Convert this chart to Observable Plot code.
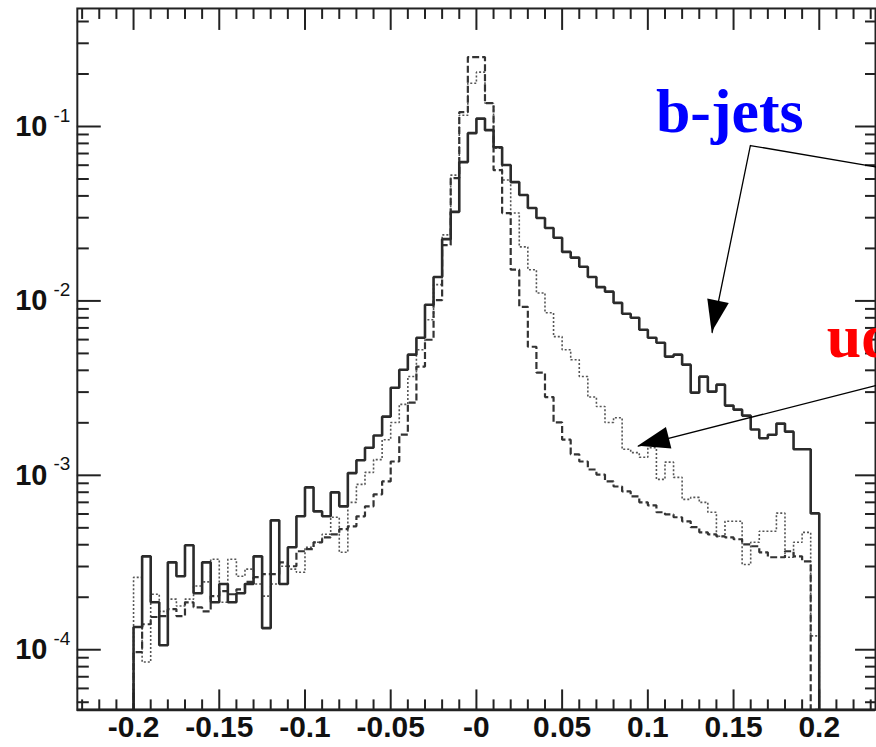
<!DOCTYPE html>
<html>
<head>
<meta charset="utf-8">
<script src="https://cdn.jsdelivr.net/npm/d3@7"></script>
<script src="https://cdn.jsdelivr.net/npm/@observablehq/plot@0.6"></script>
<style>
  html, body { margin: 0; padding: 0; background: #fff; overflow: hidden; }
  #chart { width: 876px; height: 747px; overflow: hidden; }
</style>
</head>
<body>
<div id="chart"></div>
<script>
// Histogram binning: 80 bins of width 0.005 from -0.2 to 0.2
const binStart = -0.2;
const binWidth = 0.005;

// b-jets (solid)
const bJets = [
  1.35e-4, 3.43e-4, 1.87e-4, 1.06e-4, 3.17e-4, 2.64e-4, 3.97e-4, 2.11e-4, 3.17e-4, 1.87e-4,
  2.38e-4, 1.87e-4, 2.11e-4, 2.38e-4, 3.43e-4, 1.33e-4, 5.52e-4, 2.38e-4, 3.87e-4, 5.82e-4,
  8.53e-4, 6.21e-4, 5.82e-4, 7.98e-4, 6.64e-4, 1.03e-3, 1.22e-3, 1.44e-3, 1.69e-3, 2.17e-3,
  3.18e-3, 4.03e-3, 4.92e-3, 6.15e-3, 9.50e-3, 1.37e-2, 2.26e-2, 3.24e-2, 6.25e-2, 9.16e-2,
  0.111, 9.53e-2, 7.61e-2, 6.01e-2, 4.80e-2, 4.05e-2, 3.41e-2, 2.99e-2, 2.62e-2, 2.30e-2,
  1.91e-2, 1.77e-2, 1.57e-2, 1.37e-2, 1.20e-2, 1.13e-2, 9.75e-3, 8.44e-3, 8.00e-3, 6.84e-3,
  6.15e-3, 5.76e-3, 4.79e-3, 4.92e-3, 4.31e-3, 2.98e-3, 3.68e-3, 3.02e-3, 3.31e-3, 2.51e-3,
  2.38e-3, 2.20e-3, 1.83e-3, 1.63e-3, 1.71e-3, 1.98e-3, 1.78e-3, 1.41e-3, 1.41e-3, 6.05e-4
];

// c-jets (dashed)
const cJets = [
  9.7e-5, 1.40e-4, 1.54e-4, 1.56e-4, 1.71e-4, 1.56e-4, 1.87e-4, 1.75e-4, 1.66e-4, 2.03e-4,
  2.17e-4, 2.08e-4, 2.22e-4, 2.45e-4, 2.61e-4, 2.71e-4, 2.71e-4, 3.17e-4, 3.01e-4, 3.67e-4,
  3.77e-4, 4.13e-4, 4.41e-4, 4.59e-4, 4.91e-4, 5.10e-4, 5.82e-4, 6.64e-4, 7.78e-4, 9.23e-4,
  1.20e-3, 1.71e-3, 2.61e-3, 4.20e-3, 5.99e-3, 1.01e-2, 2.09e-2, 5.06e-2, 0.121, 0.250,
  0.250, 0.136, 5.62e-2, 3.19e-2, 1.51e-2, 9.25e-3, 5.46e-3, 3.88e-3, 2.81e-3, 2.01e-3,
  1.60e-3, 1.32e-3, 1.20e-3, 1.08e-3, 1.01e-3, 9.23e-4, 8.63e-4, 8.09e-4, 7.57e-4, 7.00e-4,
  6.73e-4, 6.14e-4, 5.97e-4, 5.75e-4, 5.45e-4, 5.04e-4, 4.71e-4, 4.59e-4, 4.47e-4, 4.41e-4,
  4.30e-4, 4.02e-4, 3.92e-4, 3.62e-4, 3.39e-4, 3.39e-4, 3.67e-4, 3.43e-4, 3.21e-4, 0
];

// light jets (dotted)
const lightJets = [
  2.60e-4, 8.5e-5, 2.08e-4, 1.66e-4, 1.95e-4, 1.78e-4, 1.95e-4, 2.32e-4, 2.45e-4, 3.30e-4,
  1.87e-4, 3.30e-4, 2.64e-4, 2.90e-4, 2.38e-4, 2.03e-4, 2.38e-4, 3.01e-4, 2.90e-4, 2.78e-4,
  3.87e-4, 4.13e-4, 4.59e-4, 5.75e-4, 3.62e-4, 7.00e-4, 8.87e-4, 1.04e-3, 1.23e-3, 1.60e-3,
  2.01e-3, 2.55e-3, 3.69e-3, 5.25e-3, 7.80e-3, 1.24e-2, 2.39e-2, 5.26e-2, 0.116, 0.177,
  0.205, 0.136, 7.51e-2, 4.93e-2, 3.19e-2, 2.04e-2, 1.51e-2, 1.11e-2, 8.55e-3, 6.24e-3,
  5.25e-3, 4.60e-3, 3.69e-3, 2.81e-3, 2.48e-3, 2.01e-3, 2.14e-3, 1.41e-3, 1.35e-3, 1.27e-3,
  1.44e-3, 9.48e-4, 1.19e-3, 9.73e-4, 7.28e-4, 7.47e-4, 7.00e-4, 6.14e-4, 4.47e-4, 5.45e-4,
  5.45e-4, 3.08e-4, 4.13e-4, 4.78e-4, 4.78e-4, 6.07e-4, 3.39e-4, 4.13e-4, 4.71e-4, 1.20e-4
];

// Axis ticks and labels
const xMajorTicks = [-0.2, -0.15, -0.1, -0.05, 0, 0.05, 0.1, 0.15, 0.2];
const xTickLabels = ["-0.2", "-0.15", "-0.1", "-0.05", "-0", "0.05", "0.1", "0.15", "0.2"];
const decadeExponents = [-1, -2, -3, -4];

// Annotations: labels and arrows (data coordinates)
const labels = [
  {x: 0.1047, y: 0.166, text: "b-jets", color: "#0000ff"},
  {x: 0.2043, y: 8.55e-3, text: "udsg-jets", color: "#ff0000"}
];
const arrows = [
  [{x: 0.2328, y: 0.0586}, {x: 0.1598, y: 0.0778}, {x: 0.1375, y: 6.59e-3}],
  [{x: 0.2328, y: 3.27e-3}, {x: 0.0944, y: 1.47e-3}]
];

// Frame geometry
const W = 878, H = 747;
const mTop = 8, mBottom = 36, mLeft = 77, mRight = 1;
const innerW = W - mLeft - mRight, innerH = H - mTop - mBottom;
const xDomain = [-0.2328, 0.2328];
const yDomain = [4.52e-5, 0.475];
const yFloor = yDomain[0];

// Minor ticks: every 0.01 in x, 2..9 x 10^k in y
const xMinorTicks = d3.range(-23, 24).map(k => k / 100).filter(v => Math.abs(Math.round(v * 100) % 5) !== 0);
const yMinorTicks = [];
for (let k = -5; k <= -1; ++k) for (let m = 2; m <= 9; ++m) {
  const v = m * Math.pow(10, k);
  if (v > yDomain[0] && v < yDomain[1]) yMinorTicks.push(v);
}
const yMajorTicks = decadeExponents.map(e => Math.pow(10, e));

// Turn bin contents into a closed step outline
function stepOutline(values) {
  const pts = [{x: binStart, y: yFloor}];
  values.forEach((v, i) => pts.push({x: binStart + i * binWidth, y: Math.max(v, yFloor)}));
  const end = binStart + values.length * binWidth;
  pts.push({x: end, y: Math.max(values[values.length - 1], yFloor)});
  pts.push({x: end, y: yFloor});
  return pts;
}

const sansFont = "'Liberation Sans', Arial, Helvetica, sans-serif";
const serifFont = "'Liberation Serif', 'Times New Roman', Times, serif";
const tickColor = "#222";

const chart = Plot.plot({
  width: W,
  height: H,
  marginTop: mTop,
  marginBottom: mBottom,
  marginLeft: mLeft,
  marginRight: mRight,
  style: {background: "#fff", fontFamily: sansFont, color: "#111"},
  x: {domain: xDomain, axis: null},
  y: {type: "log", domain: yDomain, axis: null},
  marks: [
    // histograms
    Plot.line(stepOutline(lightJets), {x: "x", y: "y", curve: "step-after", stroke: "#555",
      strokeWidth: 1.6, strokeDasharray: "2,2", strokeLinecap: "butt", strokeLinejoin: "miter"}),
    Plot.line(stepOutline(cJets), {x: "x", y: "y", curve: "step-after", stroke: "#333",
      strokeWidth: 2.2, strokeDasharray: "7,3", strokeLinecap: "butt", strokeLinejoin: "miter"}),
    Plot.line(stepOutline(bJets), {x: "x", y: "y", curve: "step-after", stroke: "#2b2b2b",
      strokeWidth: 2.6, strokeLinecap: "butt", strokeLinejoin: "miter"}),

    // frame
    Plot.frame({stroke: tickColor, strokeWidth: 2}),
    Plot.ruleY([yFloor], {stroke: tickColor, strokeWidth: 3}),

    // bottom ticks (inward)
    Plot.ruleX(xMajorTicks, {x: d => d, insetTop: innerH - 20, stroke: tickColor, strokeWidth: 2}),
    Plot.ruleX(xMinorTicks, {x: d => d, insetTop: innerH - 10, stroke: tickColor, strokeWidth: 2}),
    // top ticks (inward)
    Plot.ruleX(xMajorTicks, {x: d => d, insetBottom: innerH - 22, stroke: tickColor, strokeWidth: 2}),
    Plot.ruleX(xMinorTicks, {x: d => d, insetBottom: innerH - 11, stroke: tickColor, strokeWidth: 2}),
    // left ticks (inward)
    Plot.ruleY(yMajorTicks, {y: d => d, insetRight: innerW - 24, stroke: tickColor, strokeWidth: 2}),
    Plot.ruleY(yMinorTicks, {y: d => d, insetRight: innerW - 12, stroke: tickColor, strokeWidth: 2}),
    // right ticks (inward)
    Plot.ruleY(yMajorTicks, {y: d => d, insetLeft: innerW - 20, stroke: tickColor, strokeWidth: 2}),
    Plot.ruleY(yMinorTicks, {y: d => d, insetLeft: innerW - 10, stroke: tickColor, strokeWidth: 2}),

    // x tick labels
    Plot.text(xMajorTicks, {x: d => d, text: (d, i) => xTickLabels[i], frameAnchor: "bottom",
      lineAnchor: "top", dy: 6, fontSize: 30, fontWeight: "bold", fill: "#111", fontFamily: sansFont}),
    // y tick labels: 10 with exponent
    Plot.text(decadeExponents, {y: d => Math.pow(10, d), text: () => "10", frameAnchor: "left",
      textAnchor: "end", lineAnchor: "middle", dx: -30, fontSize: 29, fontWeight: "bold", fill: "#111", fontFamily: sansFont}),
    Plot.text(decadeExponents, {y: d => Math.pow(10, d), text: d => String(d), frameAnchor: "left",
      textAnchor: "start", lineAnchor: "middle", dx: -24, dy: -11, fontSize: 19, fill: "#111", fontFamily: sansFont}),

    // annotation arrows (shafts)
    ...arrows.map(a => Plot.line(a, {x: "x", y: "y", stroke: "#000", strokeWidth: 1.3})),
    // annotation labels
    Plot.text(labels, {x: "x", y: "y", text: "text", fill: "color", textAnchor: "start", lineAnchor: "top",
      fontSize: 62, fontWeight: "bold", fontFamily: serifFont})
  ]
});

// Filled arrowheads at the end of each annotation arrow, placed with the plot's scales
(function addArrowHeads() {
  let fx, fy;
  try {
    const sx = chart.scale("x"), sy = chart.scale("y");
    if (sx && sx.apply && sy && sy.apply) { fx = sx.apply; fy = sy.apply; }
  } catch (e) {}
  if (!fx) {
    fx = d3.scaleLinear().domain(xDomain).range([mLeft, W - mRight]);
    fy = d3.scaleLog().domain(yDomain).range([H - mBottom, mTop]);
  }
  const len = 32, half = 11;
  const heads = arrows.map(a => {
    const p = a[a.length - 2], t = a[a.length - 1];
    const x0 = fx(p.x), y0 = fy(p.y), x1 = fx(t.x), y1 = fy(t.y);
    const dx = x1 - x0, dy = y1 - y0, n = Math.hypot(dx, dy);
    const ux = dx / n, uy = dy / n;
    const bx = x1 - ux * len, by = y1 - uy * len;
    return `M${x1},${y1}L${bx - uy * half},${by + ux * half}L${bx + uy * half},${by - ux * half}Z`;
  });
  d3.select(chart).append("g").selectAll("path").data(heads).join("path")
    .attr("d", d => d).attr("fill", "#000");
})();

document.getElementById("chart").appendChild(chart);
</script>
</body>
</html>
